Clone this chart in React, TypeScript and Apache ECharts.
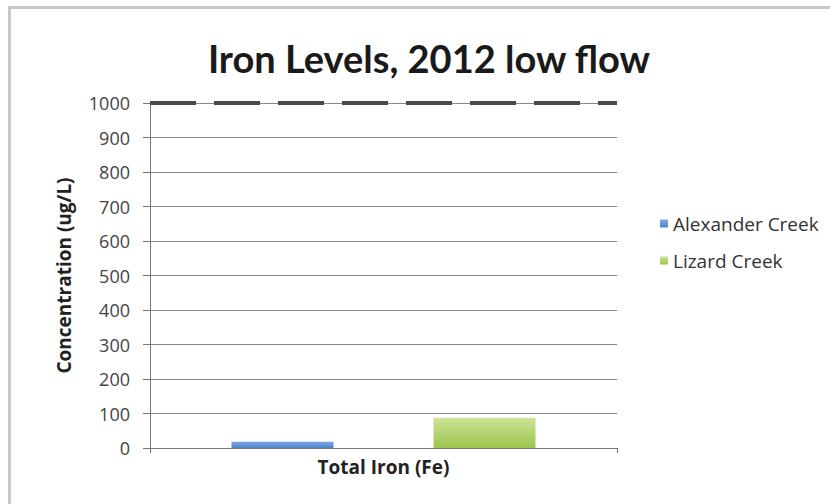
import React, { useEffect, useRef } from "react";
import * as echarts from "echarts";

const categories = ["Total Iron (Fe)"];
const seriesNames = ["Alexander Creek", "Lizard Creek"];
const alexanderValues = [18];
const lizardValues = [88];
const standardValue = 1000;
const yTicks = { min: 0, max: 1000, interval: 100 };

const TITLE_FONT = "Lato, 'Open Sans', sans-serif";
const FONT = "'Open Sans', Lato, sans-serif";

export default function App() {
  const ref = useRef<HTMLDivElement>(null);
  useEffect(() => {
    document.body.style.margin = "0";
    const chart = echarts.init(ref.current!, null, { renderer: "svg" });
    chart.setOption({
      animation: false,
      backgroundColor: "#ffffff",
      title: {
        text: "Iron Levels, 2012 low flow",
        left: 424,
        textAlign: "center",
        top: 34,
        textStyle: { fontFamily: TITLE_FONT, fontSize: 38, fontWeight: "bold", color: "#1a1a1a" },
      },
      legend: {
        orient: "vertical",
        left: 655,
        top: 209,
        itemWidth: 8,
        itemHeight: 8,
        itemGap: 18,
        icon: "rect",
        data: seriesNames,
        textStyle: { fontFamily: FONT, fontSize: 19, color: "#333" },
      },
      grid: { left: 150, right: 213, top: 103, bottom: 56 },
      xAxis: {
        type: "category",
        data: categories,
        axisLine: { lineStyle: { color: "#777", width: 1 } },
        axisTick: { show: true, length: 5, lineStyle: { color: "#777" } },
        axisLabel: { fontFamily: FONT, fontSize: 19, fontWeight: "bold", color: "#222", margin: 9 },
      },
      yAxis: {
        type: "value",
        min: yTicks.min,
        max: yTicks.max,
        interval: yTicks.interval,
        name: "Concentration (ug/L)",
        nameLocation: "middle",
        nameGap: 77,
        nameTextStyle: { fontFamily: FONT, fontSize: 19, fontWeight: "bold", color: "#222" },
        axisLine: { show: true, lineStyle: { color: "#777", width: 1 } },
        axisTick: { show: true, length: 7, lineStyle: { color: "#777" } },
        axisLabel: {
          fontFamily: FONT,
          fontSize: 18,
          color: "#444",
          margin: 20,
          formatter: (v: number) => String(v),
        },
        splitLine: { lineStyle: { color: "#8a8a8a", width: 1 } },
      },
      series: [
        {
          name: seriesNames[0],
          type: "bar",
          data: alexanderValues,
          barWidth: 102,
          barGap: "98%",
          itemStyle: {
            color: new echarts.graphic.LinearGradient(0, 0, 0, 1, [
              { offset: 0, color: "#7aa6e0" },
              { offset: 1, color: "#4f86cc" },
            ]),
          },
          markLine: {
            silent: true,
            symbol: "none",
            label: { show: false },
            lineStyle: { color: "#4a4a4a", width: 4, type: [46, 18] },
            data: [{ yAxis: standardValue }],
          },
        },
        {
          name: seriesNames[1],
          type: "bar",
          data: lizardValues,
          barWidth: 102,
          itemStyle: {
            color: new echarts.graphic.LinearGradient(0, 0, 0, 1, [
              { offset: 0, color: "#cde39a" },
              { offset: 1, color: "#9cc64a" },
            ]),
          },
        },
      ],
      graphic: [
        { type: "rect", shape: { x: 8, y: 6, width: 822, height: 3 }, style: { fill: "#c8c8c8" } },
        { type: "rect", shape: { x: 8, y: 6, width: 3, height: 498 }, style: { fill: "#c8c8c8" } },
      ],
    });
    return () => chart.dispose();
  }, []);
  return <div ref={ref} style={{ position: "fixed", left: 0, top: 0, width: 830, height: 504 }} />;
}
